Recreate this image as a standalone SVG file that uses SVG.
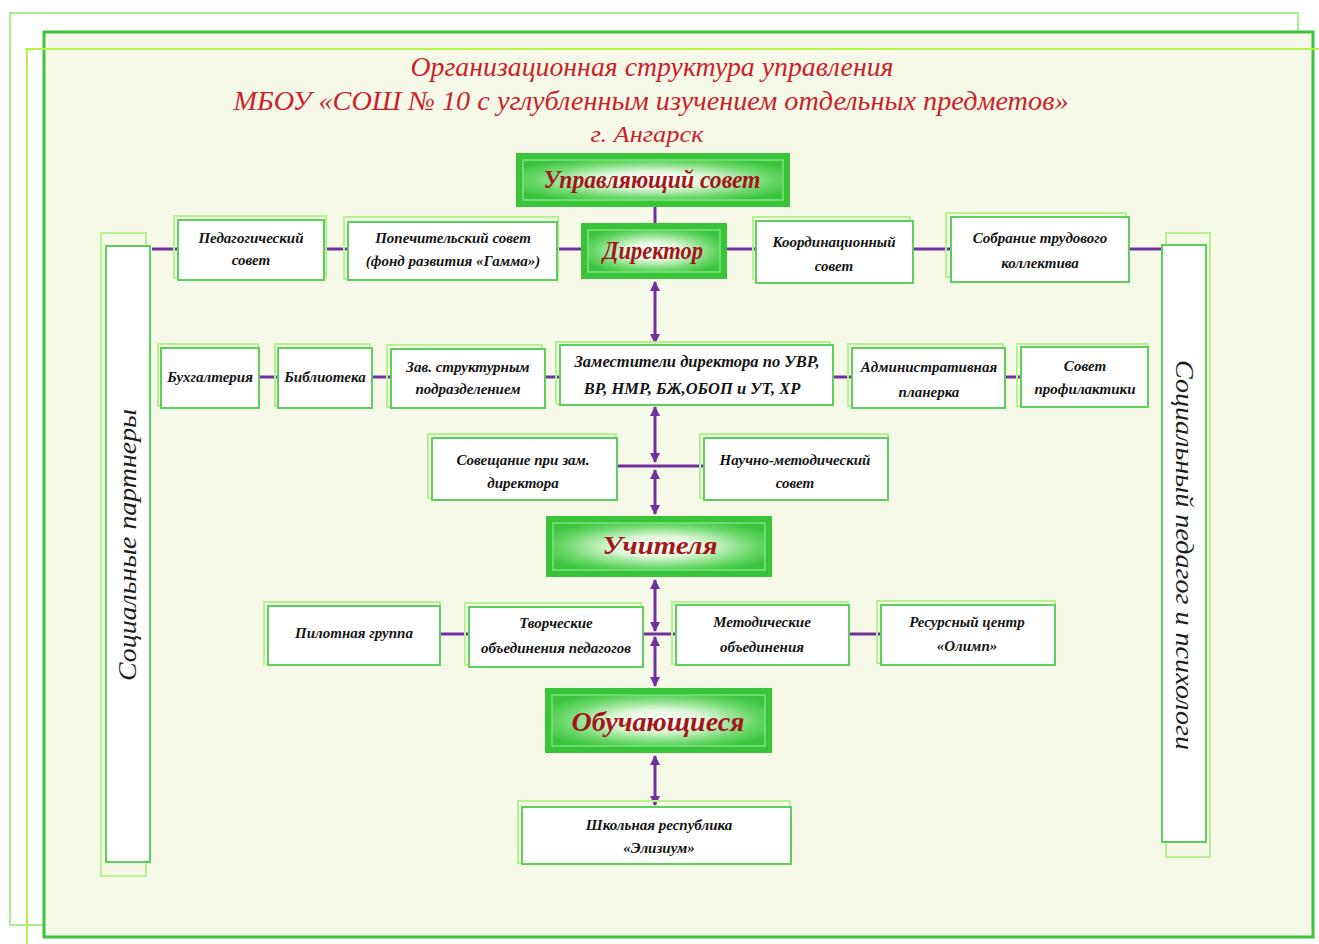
<svg xmlns="http://www.w3.org/2000/svg" width="1319" height="944" viewBox="0 0 1319 944">
<defs>
<style>
.t{font-family:"Liberation Serif","DejaVu Serif",serif;font-style:italic;font-weight:bold;font-size:15px;fill:#141414;text-anchor:middle}
.g{font-family:"Liberation Serif","DejaVu Serif",serif;font-style:italic;font-weight:bold;font-size:25px;fill:#a3161c;text-anchor:middle}
.title{font-family:"Liberation Serif","DejaVu Serif",serif;font-style:italic;font-size:27px;fill:#cc1f2b;text-anchor:middle}
.side{font-family:"Liberation Serif","DejaVu Serif",serif;font-style:italic;font-size:26px;fill:#1e1e1e;text-anchor:middle}
.lo{fill:none;stroke:#b6f28f;stroke-width:2}
.mn{fill:#ffffff;stroke:#5ccf5c;stroke-width:2}
.gout{fill:#38c338}
.gin{fill:url(#gg);stroke:#7fe27f;stroke-width:1.5}
.c{fill:none;stroke:#7030a0;stroke-width:3}
.a{fill:none;stroke:#7030a0;stroke-width:3;marker-start:url(#ar);marker-end:url(#ar)}
</style>
<radialGradient id="gg" cx="50%" cy="50%" r="60%">
<stop offset="0" stop-color="#ffffff"/>
<stop offset="0.35" stop-color="#e2f8dc"/>
<stop offset="0.75" stop-color="#6bd86b"/>
<stop offset="1" stop-color="#3cc43c"/>
</radialGradient>
<marker id="ar" viewBox="0 0 10 10" refX="9" refY="5" markerWidth="10" markerHeight="10" markerUnits="userSpaceOnUse" orient="auto-start-reverse">
<path d="M0,0 L10,5 L0,10 z" fill="#7030a0"/>
</marker>
</defs>

<rect x="0" y="0" width="1319" height="944" fill="#ffffff"/>
<rect x="10" y="13" width="1288" height="912" fill="none" stroke="#a6ef8a" stroke-width="2"/>
<rect x="44" y="32" width="1269" height="905" fill="#f6f9e8" stroke="#3cc43c" stroke-width="3"/>
<line x1="25" y1="49" x2="1319" y2="49" stroke="#b8f04a" stroke-width="2"/>
<line x1="27" y1="49" x2="27" y2="944" stroke="#b8f04a" stroke-width="2"/>

<g id="title">
<text class="title" x="652" y="76" textLength="483" lengthAdjust="spacingAndGlyphs">Организационная структура управления</text>
<text class="title" x="651" y="110" textLength="835" lengthAdjust="spacingAndGlyphs">МБОУ «СОШ № 10 с углубленным изучением отдельных предметов»</text>
<text class="title" x="647" y="142" style="font-size:23px" textLength="113" lengthAdjust="spacingAndGlyphs">г. Ангарск</text>
</g>

<g id="connectors">
<line class="c" x1="152" y1="249" x2="1162" y2="249"/>
<line class="c" x1="655" y1="207" x2="655" y2="223"/>
<line class="a" x1="655" y1="282" x2="655" y2="343"/>
<line class="c" x1="259" y1="377" x2="1020" y2="377"/>
<line class="a" x1="655" y1="407" x2="655" y2="462"/>
<line class="c" x1="617" y1="466" x2="703" y2="466"/>
<line class="a" x1="655" y1="470" x2="655" y2="514"/>
<line class="c" x1="440" y1="634" x2="880" y2="634"/>
<line class="a" x1="655" y1="580" x2="655" y2="631"/>
<line class="a" x1="655" y1="637" x2="655" y2="686"/>
<line class="a" x1="655" y1="756" x2="655" y2="805"/>
</g>

<g id="side-left">
<rect class="lo" x="101" y="233" width="45" height="643"/>
<rect class="mn" x="106" y="246" width="44" height="616"/>
<text class="side" transform="translate(136,545) rotate(-90)" textLength="272" lengthAdjust="spacingAndGlyphs">Социальные партнеры</text>
</g>
<g id="side-right">
<rect class="lo" x="1166" y="233" width="44" height="624"/>
<rect class="mn" x="1162" y="245" width="44" height="597"/>
<text class="side" transform="translate(1176,555) rotate(90)" textLength="390" lengthAdjust="spacingAndGlyphs">Социальный педагог и психологи</text>
</g>

<g id="upr-sovet">
<rect class="gout" x="516" y="153" width="274" height="54"/>
<rect class="gin" x="523" y="160" width="260" height="40"/>
<text class="g" x="652" y="188" textLength="217" lengthAdjust="spacingAndGlyphs">Управляющий совет</text>
</g>
<g id="direktor">
<rect class="gout" x="581" y="223" width="146" height="56"/>
<rect class="gin" x="588" y="230" width="132" height="42"/>
<text class="g" x="653" y="259" textLength="100" lengthAdjust="spacingAndGlyphs">Директор</text>
</g>
<g id="uchitelya">
<rect class="gout" x="546" y="516" width="226" height="61"/>
<rect class="gin" x="553" y="523" width="212" height="47"/>
<text class="g" x="660" y="554" textLength="115" lengthAdjust="spacingAndGlyphs">Учителя</text>
</g>
<g id="obuchayushchiesya">
<rect class="gout" x="545" y="688" width="227" height="65"/>
<rect class="gin" x="552" y="695" width="213" height="51"/>
<text class="g" x="658" y="731" style="font-size:28px" textLength="173" lengthAdjust="spacingAndGlyphs">Обучающиеся</text>
</g>

<g id="ped-sovet">
<rect class="lo" x="174" y="216" width="152" height="62"/>
<rect class="mn" x="178" y="220" width="146" height="60"/>
<text class="t" x="251" y="243">Педагогический</text>
<text class="t" x="251" y="265">совет</text>
</g>
<g id="popech-sovet">
<rect class="lo" x="344" y="217" width="214" height="62"/>
<rect class="mn" x="348" y="222" width="209" height="58"/>
<text class="t" x="453" y="243">Попечительский совет</text>
<text class="t" x="453" y="266">(фонд развития «Гамма»)</text>
</g>
<g id="koord-sovet">
<rect class="lo" x="753" y="217" width="157" height="62"/>
<rect class="mn" x="756" y="221" width="157" height="62"/>
<text class="t" x="834" y="247">Координационный</text>
<text class="t" x="834" y="271">совет</text>
</g>
<g id="sobranie">
<rect class="lo" x="946" y="213" width="180" height="64"/>
<rect class="mn" x="951" y="217" width="178" height="65"/>
<text class="t" x="1040" y="243">Собрание трудового</text>
<text class="t" x="1040" y="268">коллектива</text>
</g>

<g id="buhgalteriya">
<rect class="lo" x="158" y="344" width="100" height="62"/>
<rect class="mn" x="161" y="348" width="98" height="60"/>
<text class="t" x="210" y="382">Бухгалтерия</text>
</g>
<g id="biblioteka">
<rect class="lo" x="275" y="344" width="95" height="62"/>
<rect class="mn" x="278" y="348" width="94" height="60"/>
<text class="t" x="325" y="382">Библиотека</text>
</g>
<g id="zav-strukt">
<rect class="lo" x="387" y="345" width="155" height="62"/>
<rect class="mn" x="391" y="349" width="154" height="59"/>
<text class="t" x="468" y="372">Зав. структурным</text>
<text class="t" x="468" y="394">подразделением</text>
</g>
<g id="zamestiteli">
<rect class="lo" x="556" y="342" width="274" height="62"/>
<rect class="mn" x="560" y="345" width="273" height="60"/>
<text class="t" x="697" y="367" style="font-size:16.5px">Заместители директора по УВР,</text>
<text class="t" x="692" y="394" style="font-size:16.5px">ВР, НМР, БЖ,ОБОП и УТ, ХР</text>
</g>
<g id="admin-planerka">
<rect class="lo" x="848" y="344" width="155" height="62"/>
<rect class="mn" x="852" y="348" width="153" height="60"/>
<text class="t" x="929" y="372">Административная</text>
<text class="t" x="929" y="397">планерка</text>
</g>
<g id="sovet-profil">
<rect class="lo" x="1017" y="344" width="131" height="62"/>
<rect class="mn" x="1021" y="347" width="127" height="60"/>
<text class="t" x="1085" y="371">Совет</text>
<text class="t" x="1085" y="394">профилактики</text>
</g>

<g id="soveshchanie">
<rect class="lo" x="428" y="434" width="188" height="64"/>
<rect class="mn" x="432" y="438" width="185" height="62"/>
<text class="t" x="523" y="465">Совещание при зам.</text>
<text class="t" x="523" y="488">директора</text>
</g>
<g id="nauch-metod">
<rect class="lo" x="700" y="434" width="188" height="64"/>
<rect class="mn" x="704" y="438" width="184" height="62"/>
<text class="t" x="795" y="465">Научно-методический</text>
<text class="t" x="795" y="488">совет</text>
</g>

<g id="pilotnaya">
<rect class="lo" x="264" y="602" width="176" height="62"/>
<rect class="mn" x="268" y="606" width="172" height="59"/>
<text class="t" x="354" y="638">Пилотная группа</text>
</g>
<g id="tvorcheskie">
<rect class="lo" x="465" y="603" width="176" height="62"/>
<rect class="mn" x="469" y="607" width="174" height="60"/>
<text class="t" x="556" y="628">Творческие</text>
<text class="t" x="556" y="653">объединения педагогов</text>
</g>
<g id="metod-obed">
<rect class="lo" x="672" y="602" width="176" height="62"/>
<rect class="mn" x="676" y="605" width="173" height="60"/>
<text class="t" x="762" y="627">Методические</text>
<text class="t" x="762" y="652">объединения</text>
</g>
<g id="resurs-centr">
<rect class="lo" x="877" y="601" width="178" height="62"/>
<rect class="mn" x="881" y="605" width="174" height="60"/>
<text class="t" x="967" y="627">Ресурсный центр</text>
<text class="t" x="967" y="651">«Олимп»</text>
</g>

<g id="shk-respublika">
<rect class="lo" x="518" y="801" width="272" height="62"/>
<rect class="mn" x="522" y="807" width="269" height="57"/>
<text class="t" x="659" y="830">Школьная республика</text>
<text class="t" x="659" y="853">«Элизиум»</text>
</g>
</svg>
